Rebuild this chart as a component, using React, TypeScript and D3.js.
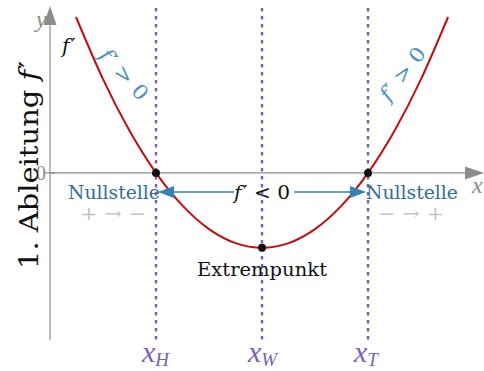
import React from "react";
import * as d3 from "d3";

// Curve f'(x) sample points (roots at xH=-1, xT=1, minimum at xW=0)
const curveXs = [-1.755, -1.5, -1.25, -1, -0.75, -0.5, -0.25, 0, 0.25, 0.5, 0.75, 1, 1.25, 1.5, 1.755];
const curveYs = [2.08, 1.25, 0.5625, 0, -0.4375, -0.75, -0.9375, -1, -0.9375, -0.75, -0.4375, 0, 0.5625, 1.25, 2.08];
const markLabels = ["H", "W", "T"];
const markXs = [-1, 0, 1];
const pointXs = [-1, 1, 0];
const pointYs = [0, 0, -1];

const W = 484, H = 371;
const FONT = "'DejaVu Serif', 'Liberation Serif', serif";
const MATH = "'Liberation Serif', 'DejaVu Serif', serif";

export default function App() {
  const x = d3.scaleLinear().domain([-2, 2.075]).range([50, 482]);
  const y = d3.scaleLinear().domain([-2.23, 2.2]).range([340, 8]);
  const pts: [number, number][] = curveXs.map((v, i) => [v, curveYs[i]]);
  const line = d3.line<[number, number]>().x(d => x(d[0])).y(d => y(d[1])).curve(d3.curveNatural);
  const grey = "#8c8c8c";
  const purple = "#7a5fb5";
  const blue = "#3483b3";
  const textBlue = "#2f6f96";
  const y0 = y(0);
  const arrowY = 192;
  const xl = x(-1) + 2, xr = x(1) - 2;
  return (
    <svg width={W} height={H} style={{ position: "absolute", left: 0, top: 0, background: "#fff" }} fontFamily={FONT}>
      {/* axes */}
      <line x1={x(-2)} x2={x(-2)} y1={340} y2={22} stroke={grey} strokeWidth={1.2} />
      <path d={`M${x(-2)},6 L${x(-2) - 6.5},25 L${x(-2) + 6.5},25 Z`} fill={grey} />
      <line x1={x(-2)} x2={466} y1={y0} y2={y0} stroke={grey} strokeWidth={1.2} />
      <path d={`M484,${y0} L465,${y0 - 6.5} L465,${y0 + 6.5} Z`} fill={grey} />
      <line x1={x(-2) - 5} x2={x(-2) + 5} y1={y0} y2={y0} stroke={grey} strokeWidth={1.2} />
      <text x={x(-2) - 4} y={y0 + 7} fontSize={20} fill={grey} textAnchor="end" fontFamily={MATH}>0</text>
      <text x={36} y={27} fontSize={24} fontStyle="italic" fill={grey} fontFamily={MATH}>y</text>
      <text x={472} y={193} fontSize={24} fontStyle="italic" fill={grey} fontFamily={MATH}>x</text>

      {/* y label */}
      <text transform={`translate(38,165) rotate(-90)`} fontSize={26} textAnchor="middle" fill="#111"
        textLength={208} lengthAdjust="spacingAndGlyphs">
        1. Ableitung <tspan fontStyle="italic">f</tspan><tspan dx={2}>′</tspan>
      </text>

      {/* curve */}
      <path d={line(pts) || ""} fill="none" stroke="#c40d0d" strokeWidth={2} />

      {/* double arrow */}
      <line x1={xl + 12} x2={xr - 12} y1={arrowY} y2={arrowY} stroke={blue} strokeWidth={1.3} />
      <path d={`M${xl},${arrowY} L${xl + 16},${arrowY - 6} L${xl + 16},${arrowY + 6} Z`} fill={blue} />
      <path d={`M${xr},${arrowY} L${xr - 16},${arrowY - 6} L${xr - 16},${arrowY + 6} Z`} fill={blue} />
      <rect x={234} y={181} width={60} height={20} fill="#fff" />
      <text x={x(0)} y={arrowY + 7} fontSize={19} textAnchor="middle" fill="#111" textLength={56} lengthAdjust="spacingAndGlyphs">
        <tspan fontStyle="italic">f</tspan><tspan dx={1.5}>′</tspan> &lt; 0
      </text>

      {/* dotted vertical lines */}
      {markXs.map((m, i) => (
        <line key={"v" + i} x1={x(m)} x2={x(m)} y1={8} y2={340} stroke={purple} strokeWidth={2.4} strokeDasharray="3.5 4.5" />
      ))}
      {markXs.map((m, i) => (
        <text key={"l" + i} x={x(m) - 14} y={362} fill={purple} fontStyle="italic" fontFamily={MATH}>
          <tspan fontSize={30}>x</tspan><tspan fontSize={19} dy={4}>{markLabels[i]}</tspan>
        </text>
      ))}

      {/* points */}
      {pointXs.map((p, i) => (
        <circle key={"p" + i} cx={x(p)} cy={y(pointYs[i])} r={4} fill="#111" />
      ))}

      {/* labels */}
      <text x={62} y={53} fontSize={20} fill="#111"><tspan fontStyle="italic">f</tspan><tspan dx={1.5}>′</tspan></text>
      <text transform="translate(119,79) rotate(48)" fontSize={20} textAnchor="middle" fill="#4a90c0" textLength={62} lengthAdjust="spacingAndGlyphs">
        <tspan fontStyle="italic">f</tspan><tspan dx={1.5}>′</tspan> &gt; 0
      </text>
      <text transform="translate(408,78) rotate(-52)" fontSize={20} textAnchor="middle" fill="#4a90c0" textLength={62} lengthAdjust="spacingAndGlyphs">
        <tspan fontStyle="italic">f</tspan><tspan dx={1.5}>′</tspan> &gt; 0
      </text>
      <text x={68} y={199} fontSize={18.5} textAnchor="start" fill={textBlue} textLength={92} lengthAdjust="spacingAndGlyphs">Nullstelle</text>
      <text x={366} y={199} fontSize={18.5} textAnchor="start" fill={textBlue} textLength={92} lengthAdjust="spacingAndGlyphs">Nullstelle</text>
      <text x={80} y={220} fontSize={19} fill="#c4c4c4" textLength={66} lengthAdjust="spacingAndGlyphs">+ → −</text>
      <text x={378} y={220} fontSize={19} fill="#c4c4c4" textLength={66} lengthAdjust="spacingAndGlyphs">− → +</text>
      <text x={197} y={276} fontSize={18.5} fill="#111" textLength={130} lengthAdjust="spacingAndGlyphs">Extrempunkt</text>
    </svg>
  );
}
